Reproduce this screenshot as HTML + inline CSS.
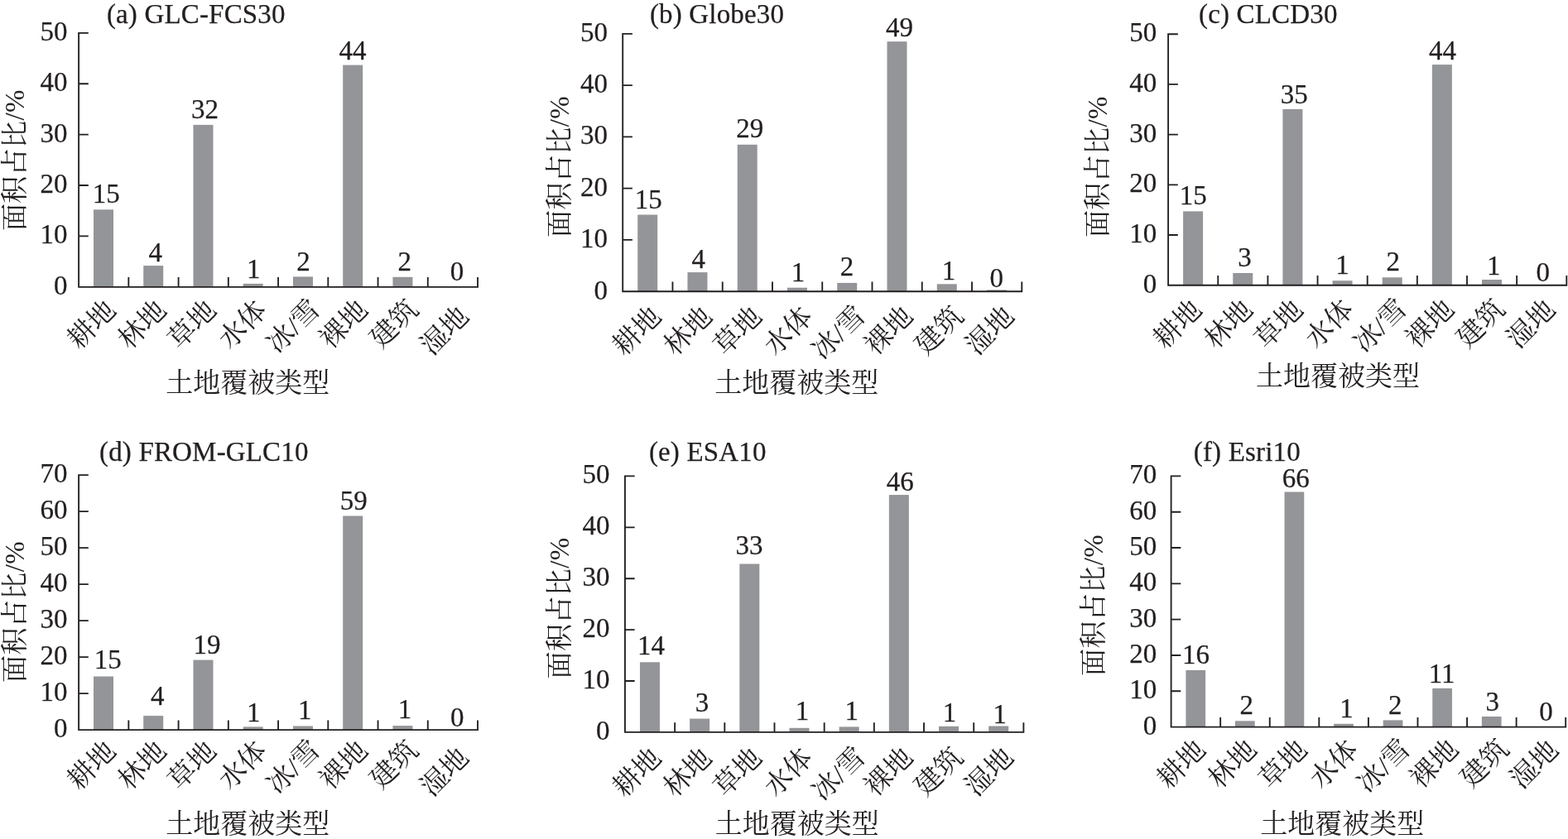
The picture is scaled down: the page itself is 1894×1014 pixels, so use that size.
<!DOCTYPE html>
<html lang="zh-CN">
<head>
<meta charset="utf-8">
<title>不同土地覆被产品各类型面积占比</title>
<style>
html,body{margin:0;padding:0;background:#fff;}
body{width:1894px;height:1014px;overflow:hidden;}
svg{display:block;}
text{font-family:"Liberation Serif","Noto Serif CJK SC",serif;font-size:33px;fill:#231f20;stroke:#231f20;stroke-width:0.25px;stroke-linejoin:round;}
.cj{font-family:"Liberation Serif","Noto Serif CJK SC",serif;font-weight:400;stroke-width:0px;}
.ax{stroke:#231f20;stroke-width:1.85;fill:none;stroke-linecap:butt;}
.bar{fill:#939598;}
.yl{letter-spacing:0.4px;}
.t{letter-spacing:0.17px;}
.e{text-anchor:end;}.m{text-anchor:middle;}
</style>
</head>
<body>
<svg width="1894" height="1014" viewBox="0 0 1894 1014">
<rect x="0" y="0" width="1894" height="1014" fill="#ffffff"/>
<g>
<rect class="bar" x="113" y="253.3" width="24" height="93.5"/>
<rect class="bar" x="173.24" y="321.1" width="24" height="25.7"/>
<rect class="bar" x="233.48" y="150.9" width="24" height="195.9"/>
<rect class="bar" x="293.72" y="342.9" width="24" height="3.9"/>
<rect class="bar" x="353.96" y="334.4" width="24" height="12.4"/>
<rect class="bar" x="414.2" y="78.6" width="24" height="268.2"/>
<rect class="bar" x="474.44" y="334.8" width="24" height="12"/>
<path class="ax" d="M95.1 38.98V346.8H577.94M95.1 285.42h11.7M95.1 224.04h11.7M95.1 162.66h11.7M95.1 101.28h11.7M95.1 39.9h11.7M155.34 346.8v-11.7M215.58 346.8v-11.7M275.82 346.8v-11.7M336.06 346.8v-11.7M396.3 346.8v-11.7M456.54 346.8v-11.7M516.78 346.8v-11.7M577.02 346.8v-11.7"/>
<text class="e" x="81.6" y="355.8">0</text>
<text class="e" x="81.6" y="294.42">10</text>
<text class="e" x="81.6" y="233.04">20</text>
<text class="e" x="81.6" y="171.66">30</text>
<text class="e" x="81.6" y="110.28">40</text>
<text class="e" x="81.6" y="48.9">50</text>
<text class="t" x="128.9" y="27.6">(a) GLC-FCS30</text>
<text class="cj yl" transform="translate(29.3 279.1) rotate(-90)">面积占比/%</text>
<text class="cj" x="200.3" y="473.5">土地覆被类型</text>
<text class="cj e" transform="translate(141.8 376.8) rotate(-45)">耕地</text>
<text class="cj e" transform="translate(202.8 376.8) rotate(-45)">林地</text>
<text class="cj e" transform="translate(263.1 376.8) rotate(-45)">草地</text>
<text class="cj e" transform="translate(324.1 376.8) rotate(-45)">水体</text>
<text class="cj e" transform="translate(388.7 375.3) rotate(-45)">冰/雪</text>
<text class="cj e" transform="translate(446.1 376.3) rotate(-45)">裸地</text>
<text class="cj e" transform="translate(507.2 375.8) rotate(-45)">建筑</text>
<text class="cj e" transform="translate(568.2 384.3) rotate(-45)">湿地</text>
<text class="m" x="128.2" y="245.4">15</text>
<text class="m" x="187.7" y="315.5">4</text>
<text class="m" x="247.6" y="142.6">32</text>
<text class="m" x="306.2" y="335.9">1</text>
<text class="m" x="366.6" y="327">2</text>
<text class="m" x="426" y="72.1">44</text>
<text class="m" x="488.8" y="327.4">2</text>
<text class="m" x="552" y="338.5">0</text>
</g>
<g>
<rect class="bar" x="770.2" y="259.5" width="24" height="92.7"/>
<rect class="bar" x="830.46" y="329.1" width="24" height="23.1"/>
<rect class="bar" x="890.72" y="174.8" width="24" height="177.4"/>
<rect class="bar" x="950.98" y="347.7" width="24" height="4.5"/>
<rect class="bar" x="1011.24" y="341.9" width="24" height="10.3"/>
<rect class="bar" x="1071.5" y="50.2" width="24" height="302"/>
<rect class="bar" x="1131.76" y="343.3" width="24" height="8.9"/>
<rect class="bar" x="1192.02" y="350.4" width="24" height="1.8"/>
<path class="ax" d="M752.2 39.88V352.2H1235.2M752.2 289.92h11.7M752.2 227.64h11.7M752.2 165.36h11.7M752.2 103.08h11.7M752.2 40.8h11.7M812.46 352.2v-11.7M872.72 352.2v-11.7M932.98 352.2v-11.7M993.24 352.2v-11.7M1053.5 352.2v-11.7M1113.76 352.2v-11.7M1174.02 352.2v-11.7M1234.28 352.2v-11.7"/>
<text class="e" x="734" y="362">0</text>
<text class="e" x="734" y="298.92">10</text>
<text class="e" x="734" y="236.64">20</text>
<text class="e" x="734" y="174.36">30</text>
<text class="e" x="734" y="112.08">40</text>
<text class="e" x="734" y="49.8">50</text>
<text class="t" x="784.9" y="28">(b) Globe30</text>
<text class="cj yl" transform="translate(686.5 286.9) rotate(-90)">面积占比/%</text>
<text class="cj" x="863.3" y="473.5">土地覆被类型</text>
<text class="cj e" transform="translate(800.5 384.7) rotate(-45)">耕地</text>
<text class="cj e" transform="translate(862.16 384.7) rotate(-45)">林地</text>
<text class="cj e" transform="translate(922.12 384.7) rotate(-45)">草地</text>
<text class="cj e" transform="translate(983.28 384.7) rotate(-45)">水体</text>
<text class="cj e" transform="translate(1047.24 383.2) rotate(-45)">冰/雪</text>
<text class="cj e" transform="translate(1104.6 384.2) rotate(-45)">裸地</text>
<text class="cj e" transform="translate(1165.46 384) rotate(-45)">建筑</text>
<text class="cj e" transform="translate(1226.82 384.2) rotate(-45)">湿地</text>
<text class="m" x="783.3" y="251.6">15</text>
<text class="m" x="843.7" y="323.5">4</text>
<text class="m" x="905.8" y="165.7">29</text>
<text class="m" x="964" y="340.3">1</text>
<text class="m" x="1023.1" y="332.7">2</text>
<text class="m" x="1086.4" y="43.7">49</text>
<text class="m" x="1145.9" y="337.7">1</text>
<text class="m" x="1203.8" y="347.4">0</text>
</g>
<g>
<rect class="bar" x="1429.1" y="255.4" width="24" height="89.3"/>
<rect class="bar" x="1489.25" y="330" width="24" height="14.7"/>
<rect class="bar" x="1549.4" y="131.9" width="24" height="212.8"/>
<rect class="bar" x="1609.55" y="339.2" width="24" height="5.5"/>
<rect class="bar" x="1669.7" y="335.3" width="24" height="9.4"/>
<rect class="bar" x="1729.85" y="78.1" width="24" height="266.6"/>
<rect class="bar" x="1790" y="338" width="24" height="6.7"/>
<path class="ax" d="M1411.1 40.28V344.7H1893.22M1411.1 284h11.7M1411.1 223.3h11.7M1411.1 162.6h11.7M1411.1 101.9h11.7M1411.1 41.2h11.7M1471.25 344.7v-11.7M1531.4 344.7v-11.7M1591.55 344.7v-11.7M1651.7 344.7v-11.7M1711.85 344.7v-11.7M1772 344.7v-11.7M1832.15 344.7v-11.7M1892.3 344.7v-11.7"/>
<text class="e" x="1397.3" y="353.7">0</text>
<text class="e" x="1397.3" y="293">10</text>
<text class="e" x="1397.3" y="232.3">20</text>
<text class="e" x="1397.3" y="171.6">30</text>
<text class="e" x="1397.3" y="110.9">40</text>
<text class="e" x="1397.3" y="50.2">50</text>
<text class="t" x="1448" y="27.8">(c) CLCD30</text>
<text class="cj yl" transform="translate(1336.5 287.1) rotate(-90)">面积占比/%</text>
<text class="cj" x="1516.9" y="465.5">土地覆被类型</text>
<text class="cj e" transform="translate(1453.7 376.4) rotate(-45)">耕地</text>
<text class="cj e" transform="translate(1515.18 376.4) rotate(-45)">林地</text>
<text class="cj e" transform="translate(1575.76 376.4) rotate(-45)">草地</text>
<text class="cj e" transform="translate(1636.84 376) rotate(-45)">水体</text>
<text class="cj e" transform="translate(1701.42 374.6) rotate(-45)">冰/雪</text>
<text class="cj e" transform="translate(1758.4 375.9) rotate(-45)">裸地</text>
<text class="cj e" transform="translate(1819.58 375.5) rotate(-45)">建筑</text>
<text class="cj e" transform="translate(1880.46 376.2) rotate(-45)">湿地</text>
<text class="m" x="1441.3" y="246.8">15</text>
<text class="m" x="1503.4" y="322.2">3</text>
<text class="m" x="1563.3" y="124.8">35</text>
<text class="m" x="1621.5" y="330.9">1</text>
<text class="m" x="1682.7" y="327.4">2</text>
<text class="m" x="1742.6" y="71.6">44</text>
<text class="m" x="1804.3" y="331.5">1</text>
<text class="m" x="1863.8" y="339.8">0</text>
</g>
<g>
<rect class="bar" x="113" y="817.5" width="24" height="64.6"/>
<rect class="bar" x="173.24" y="865.1" width="24" height="17"/>
<rect class="bar" x="233.48" y="797.6" width="24" height="84.5"/>
<rect class="bar" x="293.72" y="878.4" width="24" height="3.7"/>
<rect class="bar" x="353.96" y="877.5" width="24" height="4.6"/>
<rect class="bar" x="414.2" y="623.5" width="24" height="258.6"/>
<rect class="bar" x="474.44" y="877.1" width="24" height="5"/>
<path class="ax" d="M95.1 573.18V882.1H577.94M95.1 838.1h11.7M95.1 794.1h11.7M95.1 750.1h11.7M95.1 706.1h11.7M95.1 662.1h11.7M95.1 618.1h11.7M95.1 574.1h11.7M155.34 882.1v-11.7M215.58 882.1v-11.7M275.82 882.1v-11.7M336.06 882.1v-11.7M396.3 882.1v-11.7M456.54 882.1v-11.7M516.78 882.1v-11.7M577.02 882.1v-11.7"/>
<text class="e" x="81.6" y="890.9">0</text>
<text class="e" x="81.6" y="847.1">10</text>
<text class="e" x="81.6" y="803.1">20</text>
<text class="e" x="81.6" y="759.1">30</text>
<text class="e" x="81.6" y="715.1">40</text>
<text class="e" x="81.6" y="671.1">50</text>
<text class="e" x="81.6" y="627.1">60</text>
<text class="e" x="81.6" y="583.1">70</text>
<text class="t" x="120" y="557.1">(d) FROM-GLC10</text>
<text class="cj yl" transform="translate(29.3 824.9) rotate(-90)">面积占比/%</text>
<text class="cj" x="200.3" y="1006.5">土地覆被类型</text>
<text class="cj e" transform="translate(141.8 909.6) rotate(-45)">耕地</text>
<text class="cj e" transform="translate(202.8 909.6) rotate(-45)">林地</text>
<text class="cj e" transform="translate(263.1 909.6) rotate(-45)">草地</text>
<text class="cj e" transform="translate(324.1 909.3) rotate(-45)">水体</text>
<text class="cj e" transform="translate(388.7 907.9) rotate(-45)">冰/雪</text>
<text class="cj e" transform="translate(446.1 909.1) rotate(-45)">裸地</text>
<text class="cj e" transform="translate(507.2 908.6) rotate(-45)">建筑</text>
<text class="cj e" transform="translate(568.2 917.6) rotate(-45)">湿地</text>
<text class="m" x="130.2" y="808.3">15</text>
<text class="m" x="190.2" y="851.5">4</text>
<text class="m" x="250.1" y="789.9">19</text>
<text class="m" x="306.2" y="871.5">1</text>
<text class="m" x="368.3" y="869.2">1</text>
<text class="m" x="427.2" y="616.4">59</text>
<text class="m" x="489" y="868.3">1</text>
<text class="m" x="552.2" y="877.5">0</text>
</g>
<g>
<rect class="bar" x="772.95" y="800.3" width="24" height="84.6"/>
<rect class="bar" x="833.13" y="868.6" width="24" height="16.3"/>
<rect class="bar" x="893.31" y="681.5" width="24" height="203.4"/>
<rect class="bar" x="953.49" y="879.8" width="24" height="5.1"/>
<rect class="bar" x="1013.67" y="878.4" width="24" height="6.5"/>
<rect class="bar" x="1073.85" y="598.1" width="24" height="286.8"/>
<rect class="bar" x="1134.03" y="877.8" width="24" height="7.1"/>
<rect class="bar" x="1194.21" y="877.5" width="24" height="7.4"/>
<path class="ax" d="M754.95 574.48V884.9H1237.32M754.95 823h11.7M754.95 761.1h11.7M754.95 699.2h11.7M754.95 637.3h11.7M754.95 575.4h11.7M815.13 884.9v-11.7M875.31 884.9v-11.7M935.49 884.9v-11.7M995.67 884.9v-11.7M1055.85 884.9v-11.7M1116.03 884.9v-11.7M1176.21 884.9v-11.7M1236.39 884.9v-11.7"/>
<text class="e" x="736.6" y="893.9">0</text>
<text class="e" x="736.6" y="832">10</text>
<text class="e" x="736.6" y="770.1">20</text>
<text class="e" x="736.6" y="708.2">30</text>
<text class="e" x="736.6" y="646.3">40</text>
<text class="e" x="736.6" y="584.4">50</text>
<text class="t" x="783.9" y="557.1">(e) ESA10</text>
<text class="cj yl" transform="translate(686.5 820.4) rotate(-90)">面积占比/%</text>
<text class="cj" x="863.8" y="1006.5">土地覆被类型</text>
<text class="cj e" transform="translate(800.7 918.1) rotate(-45)">耕地</text>
<text class="cj e" transform="translate(861.6 918.1) rotate(-45)">林地</text>
<text class="cj e" transform="translate(922.1 917.9) rotate(-45)">草地</text>
<text class="cj e" transform="translate(983.4 917.9) rotate(-45)">水体</text>
<text class="cj e" transform="translate(1047.3 916.4) rotate(-45)">冰/雪</text>
<text class="cj e" transform="translate(1104.5 917.4) rotate(-45)">裸地</text>
<text class="cj e" transform="translate(1165 917.2) rotate(-45)">建筑</text>
<text class="cj e" transform="translate(1226 917.4) rotate(-45)">湿地</text>
<text class="m" x="786.4" y="790.6">14</text>
<text class="m" x="848.1" y="860.3">3</text>
<text class="m" x="905" y="670.2">33</text>
<text class="m" x="969.1" y="869.7">1</text>
<text class="m" x="1028.7" y="870.4">1</text>
<text class="m" x="1087.3" y="592.5">46</text>
<text class="m" x="1147" y="872.2">1</text>
<text class="m" x="1207.7" y="873.6">1</text>
</g>
<g>
<rect class="bar" x="1432.4" y="810" width="23.7" height="68.6"/>
<rect class="bar" x="1491.97" y="871.3" width="23.7" height="7.3"/>
<rect class="bar" x="1551.55" y="594.5" width="23.7" height="284.1"/>
<rect class="bar" x="1611.12" y="874.8" width="23.7" height="3.8"/>
<rect class="bar" x="1670.7" y="870.4" width="23.7" height="8.2"/>
<rect class="bar" x="1730.27" y="831.9" width="23.7" height="46.7"/>
<rect class="bar" x="1789.85" y="866" width="23.7" height="12.6"/>
<path class="ax" d="M1414.6 574.48V878.6H1892.12M1414.6 835.29h11.7M1414.6 791.97h11.7M1414.6 748.66h11.7M1414.6 705.34h11.7M1414.6 662.03h11.7M1414.6 618.71h11.7M1414.6 575.4h11.7M1474.17 878.6v-11.7M1533.75 878.6v-11.7M1593.32 878.6v-11.7M1652.9 878.6v-11.7M1712.47 878.6v-11.7M1772.05 878.6v-11.7M1831.62 878.6v-11.7M1891.2 878.6v-11.7"/>
<text class="e" x="1397.3" y="888.4">0</text>
<text class="e" x="1397.3" y="844.29">10</text>
<text class="e" x="1397.3" y="800.97">20</text>
<text class="e" x="1397.3" y="757.66">30</text>
<text class="e" x="1397.3" y="714.34">40</text>
<text class="e" x="1397.3" y="671.03">50</text>
<text class="e" x="1397.3" y="627.71">60</text>
<text class="e" x="1397.3" y="584.4">70</text>
<text class="t" x="1441.8" y="557.1">(f) Esri10</text>
<text class="cj yl" transform="translate(1332.2 816.9) rotate(-90)">面积占比/%</text>
<text class="cj" x="1522.2" y="1006.5">土地覆被类型</text>
<text class="cj e" transform="translate(1458.1 908.1) rotate(-45)">耕地</text>
<text class="cj e" transform="translate(1519.77 907.9) rotate(-45)">林地</text>
<text class="cj e" transform="translate(1580.85 908.1) rotate(-45)">草地</text>
<text class="cj e" transform="translate(1642.32 908.1) rotate(-45)">水体</text>
<text class="cj e" transform="translate(1705.7 906.6) rotate(-45)">冰/雪</text>
<text class="cj e" transform="translate(1763.47 907.6) rotate(-45)">裸地</text>
<text class="cj e" transform="translate(1824.25 907.1) rotate(-45)">建筑</text>
<text class="cj e" transform="translate(1884.33 908.4) rotate(-45)">湿地</text>
<text class="m" x="1444.4" y="802.3">16</text>
<text class="m" x="1505.8" y="863.3">2</text>
<text class="m" x="1565.3" y="588.9">66</text>
<text class="m" x="1626.5" y="866.9">1</text>
<text class="m" x="1685.2" y="863.3">2</text>
<text class="m" x="1741.7" y="824.8">11</text>
<text class="m" x="1802.8" y="858.9">3</text>
<text class="m" x="1867.5" y="871">0</text>
</g>
</svg>
</body>
</html>
